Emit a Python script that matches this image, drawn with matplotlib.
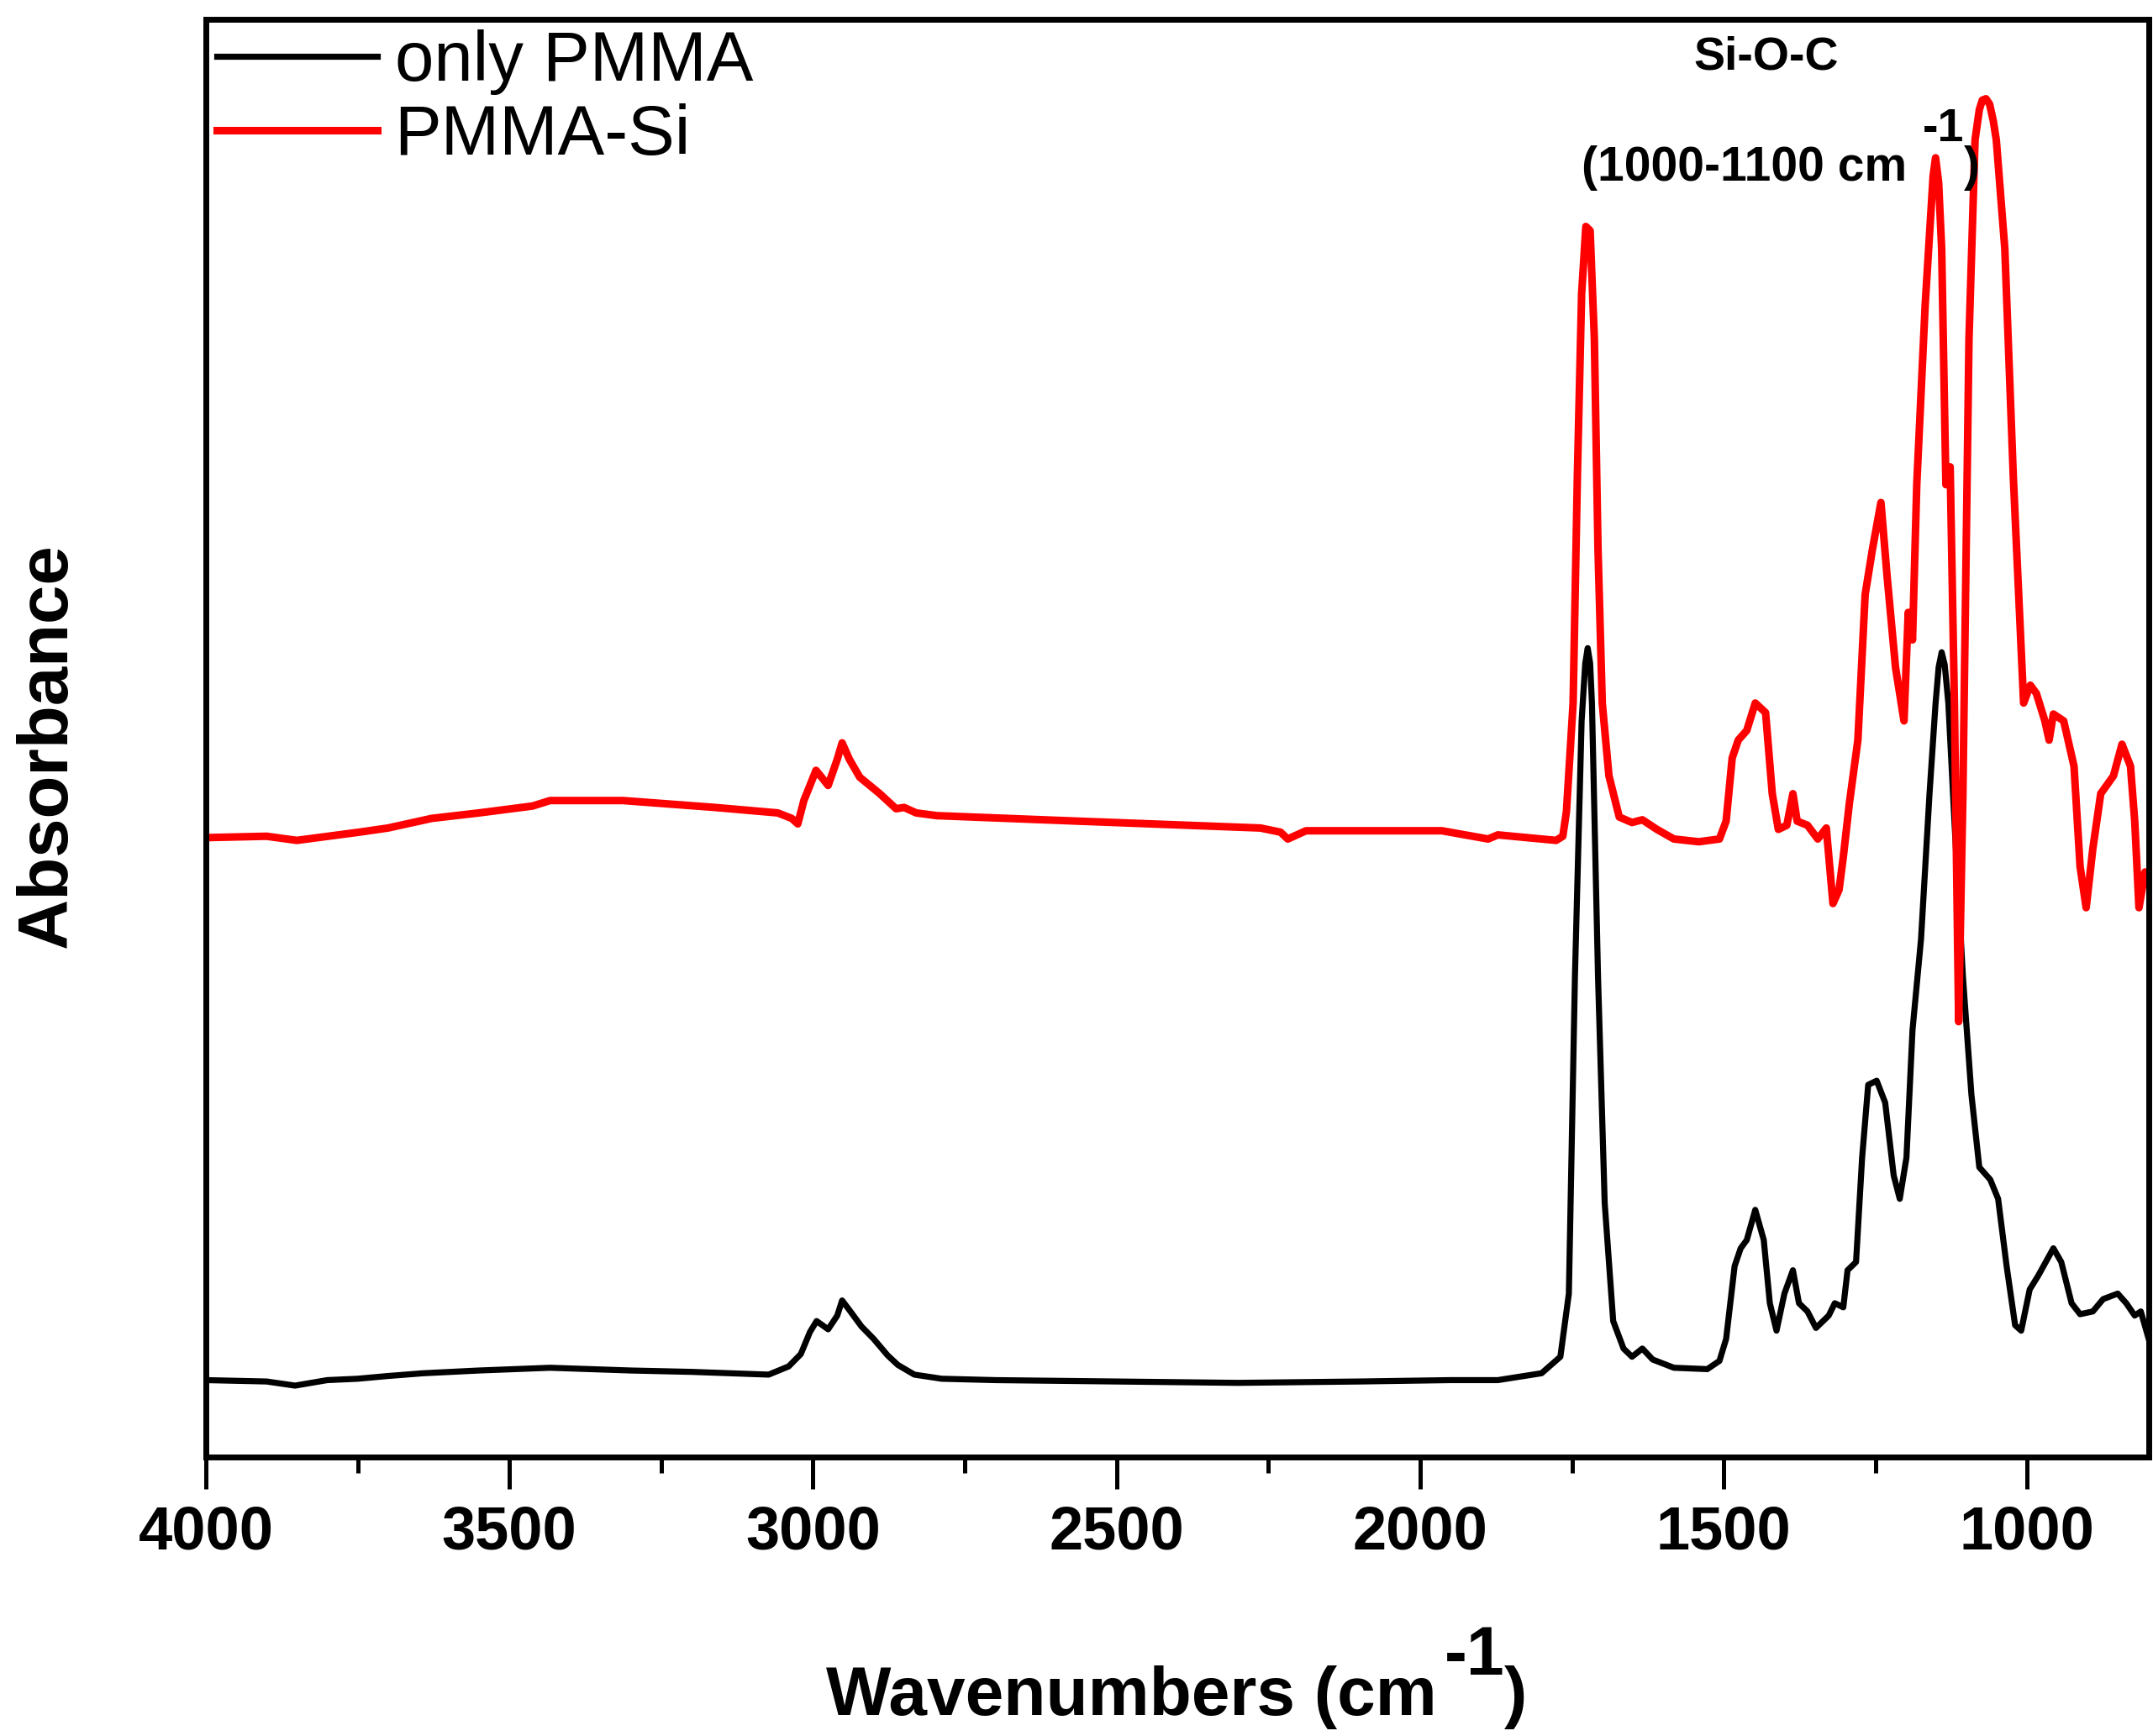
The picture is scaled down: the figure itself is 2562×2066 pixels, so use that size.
import matplotlib
matplotlib.use("Agg")
import matplotlib.pyplot as plt
from matplotlib.ticker import MultipleLocator

plt.rcParams["font.family"] = ["Liberation Sans", "DejaVu Sans"]

wn_pmma = [4000, 3900, 3853, 3800, 3750, 3700, 3642, 3550, 3433, 3300, 3200, 3073,
           3040, 3020, 3005, 2994, 2975, 2960, 2952, 2940, 2920, 2900, 2877, 2860,
           2833, 2788, 2700, 2500, 2300, 2100, 1950, 1872, 1800, 1769, 1755, 1745,
           1734, 1728, 1724, 1720, 1717, 1707, 1696, 1682, 1665, 1651, 1634, 1617, 1582, 1527,
           1507, 1496, 1482, 1472, 1462, 1448, 1434, 1424, 1413, 1400, 1386, 1376,
           1362, 1348, 1327, 1317, 1303, 1296, 1282, 1272, 1262, 1248, 1234, 1220,
           1210, 1199, 1189, 1175, 1161, 1151, 1146, 1141, 1136, 1130, 1120, 1106, 1092, 1079,
           1061, 1048, 1034, 1020, 1010, 996, 982, 957, 944, 927, 913, 892, 875,
           851, 837, 823, 813, 800]
abs_pmma = [0.053, 0.052, 0.049, 0.053, 0.054, 0.056, 0.058, 0.060, 0.062, 0.060, 0.059, 0.057,
            0.063, 0.072, 0.088, 0.096, 0.090, 0.100, 0.111, 0.104, 0.092, 0.083, 0.071, 0.064,
            0.057, 0.054, 0.053, 0.052, 0.051, 0.052, 0.053, 0.053, 0.058, 0.070, 0.116, 0.347,
            0.533, 0.575, 0.586, 0.575, 0.546, 0.347, 0.182, 0.096, 0.076, 0.070, 0.076, 0.068, 0.062, 0.061,
            0.067, 0.083, 0.136, 0.149, 0.155, 0.177, 0.155, 0.109, 0.089, 0.116, 0.133, 0.109,
            0.103, 0.091, 0.100, 0.109, 0.106, 0.133, 0.139, 0.215, 0.268, 0.271, 0.255, 0.202,
            0.185, 0.215, 0.308, 0.374, 0.480, 0.546, 0.572, 0.583, 0.574, 0.546, 0.460, 0.347, 0.261, 0.208,
            0.199, 0.185, 0.136, 0.093, 0.089, 0.119, 0.129, 0.149, 0.139, 0.109, 0.101, 0.103, 0.112,
            0.116, 0.109, 0.100, 0.103, 0.083]

wn_si = [4000, 3900, 3850, 3747, 3700, 3628, 3550, 3462, 3433, 3313, 3162, 3058,
         3035, 3025, 3015, 2995, 2975, 2960, 2952, 2940, 2923, 2890, 2863, 2850,
         2830, 2796, 2563, 2263, 2230, 2218, 2188, 1964, 1888, 1872, 1776, 1765,
         1759, 1748, 1741, 1734, 1727, 1720, 1713, 1707, 1700, 1689, 1672, 1651,
         1634, 1610, 1582, 1541, 1507, 1496, 1486, 1476, 1462, 1448, 1431, 1420,
         1410, 1396, 1386, 1379, 1362, 1345, 1331, 1320, 1310, 1303, 1293, 1279,
         1267, 1255, 1241, 1231, 1217, 1203, 1196, 1189, 1182, 1168, 1155, 1151, 1146, 1141,
         1134, 1127, 1120, 1113, 1106, 1096, 1086, 1079, 1074, 1068, 1062, 1056, 1051, 1037, 1023, 1006,
         995, 985, 971, 964, 957, 940, 923, 913, 903, 892, 879, 858, 844, 830,
         823, 816, 806, 800]
abs_si = [0.448, 0.449, 0.446, 0.452, 0.455, 0.462, 0.466, 0.471, 0.475, 0.475, 0.470, 0.466,
          0.462, 0.458, 0.475, 0.497, 0.486, 0.505, 0.517, 0.505, 0.492, 0.480, 0.469, 0.470,
          0.466, 0.464, 0.460, 0.455, 0.452, 0.447, 0.453, 0.453, 0.447, 0.450, 0.446, 0.449,
          0.467, 0.546, 0.711, 0.844, 0.893, 0.890, 0.811, 0.658, 0.546, 0.493, 0.463, 0.459,
          0.461, 0.454, 0.447, 0.445, 0.447, 0.460, 0.506, 0.519, 0.526, 0.546, 0.539, 0.480,
          0.454, 0.457, 0.480, 0.460, 0.457, 0.447, 0.455, 0.400, 0.410, 0.434, 0.473, 0.519,
          0.625, 0.658, 0.692, 0.639, 0.572, 0.533, 0.612, 0.592, 0.705, 0.837, 0.930, 0.943, 0.925, 0.877,
          0.705, 0.718, 0.546, 0.314, 0.480, 0.811, 0.956, 0.978, 0.985, 0.986, 0.982, 0.970, 0.956, 0.877, 0.711, 0.546,
          0.559, 0.553, 0.533, 0.519, 0.538, 0.533, 0.500, 0.427, 0.397, 0.440, 0.480, 0.493,
          0.516, 0.500, 0.460, 0.397, 0.423, 0.420]

labels = ["only PMMA", "PMMA-Si"]
colors = ["black", "#ff0000"]

fig = plt.figure(figsize=(25.62, 20.66), dpi=100)
ax = fig.add_axes([0.0956, 0.1607, 0.9024, 0.8283])

ax.plot(wn_pmma, abs_pmma, color=colors[0], lw=5.2, label=labels[0])
ax.plot(wn_si, abs_si, color=colors[1], lw=6.5, label=labels[1])

ax.set_xlim(4000, 800)
ax.set_ylim(-0.003, 1.044)
ax.set_yticks([])
ax.xaxis.set_major_locator(MultipleLocator(500))
ax.xaxis.set_minor_locator(MultipleLocator(250))
ax.tick_params(axis="x", which="major", direction="out", length=27, width=3.6,
               labelsize=52, pad=14)
ax.tick_params(axis="x", which="minor", direction="out", length=14, width=3.6)
for lab in ax.get_xticklabels():
    lab.set_fontweight("bold")
for sp in ax.spines.values():
    sp.set_linewidth(5)

ax.legend(loc="upper left", bbox_to_anchor=(0.0056, 0.9927), frameon=False,
          fontsize=60, borderpad=0, borderaxespad=0, handlelength=2.29,
          handletextpad=0.25, labelspacing=0.12)

# band annotation (superscript drawn as raised text, like the original)
ax.text(0.803, 0.9648, "Si-O-C", transform=ax.transAxes, ha="center",
        va="baseline", fontsize=40, fontweight="bold")
ax.text(0.708, 0.8875, "(1000-1100 cm", transform=ax.transAxes,
        ha="left", va="baseline", fontsize=41, fontweight="bold")
ax.text(0.8835, 0.915, "-1", transform=ax.transAxes,
        ha="left", va="baseline", fontsize=40, fontweight="bold")
ax.text(0.9048, 0.8875, ")", transform=ax.transAxes,
        ha="left", va="baseline", fontsize=41, fontweight="bold")

fig.text(0.3835, 0.0121, "Wavenumbers (cm", ha="left", va="baseline",
         fontsize=59, fontweight="bold")
fig.text(0.671, 0.0353, "-1", ha="left", va="baseline", fontsize=58,
         fontweight="bold")
fig.text(0.6987, 0.0121, ")", ha="left", va="baseline", fontsize=59,
         fontweight="bold")
fig.text(0.0223, 0.5706, "Absorbance", rotation=90, ha="center", va="center",
         fontsize=60, fontweight="bold")

fig.savefig("out.png", dpi=100)
